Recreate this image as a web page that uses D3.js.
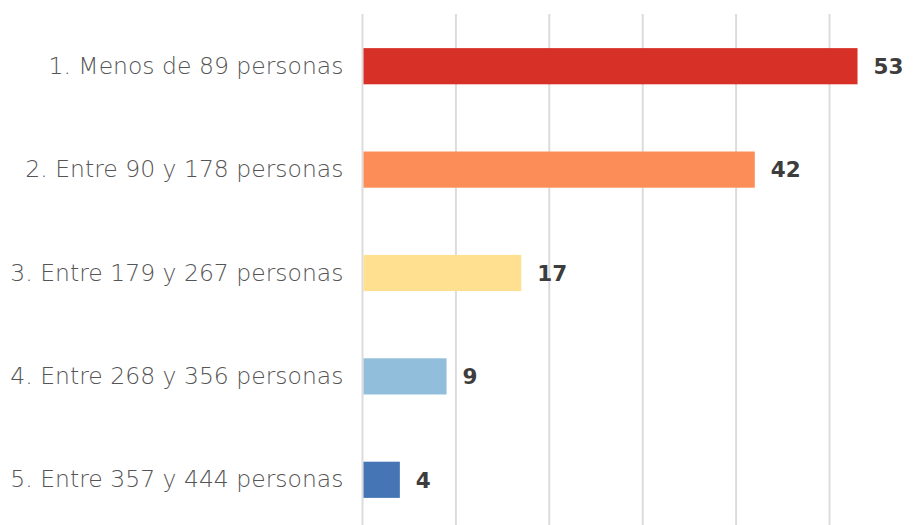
<!DOCTYPE html>
<meta charset="utf-8">
<style>
  body { margin: 0; background: #fff; }
</style>
<body>
<script src="https://d3js.org/d3.v7.min.js"></script>
<script>

    var categories = ["1. Menos de 89 personas", "2. Entre 90 y 178 personas", "3. Entre 179 y 267 personas",
                      "4. Entre 268 y 356 personas", "5. Entre 357 y 444 personas"];
    var values = [53, 42, 17, 9, 4];
    var colors = ["#d73027", "#fc8d59", "#fee090", "#91bfdb", "#4575b4"];
    var gridTicks = [0, 10, 20, 30, 40, 50];

    var width = 914,
        height = 525;

    var svg = d3.select("body").append("svg")
            .attr("width", width)
            .attr("height", height);

    var x = d3.scaleLinear()
            .domain([0, 50])
            .range([362.5, 829.5]);

    var y = d3.scaleBand()
            .domain(categories)
            .range([14, 532])
            .paddingInner(0.65)
            .paddingOuter(0.33);

    // vertical gridlines
    svg.selectAll(".grid")
        .data(gridTicks)
        .enter().append("line")
        .attr("x1", function(d) { return x(d); })
        .attr("x2", function(d) { return x(d); })
        .attr("y1", 14)
        .attr("y2", height)
        .attr("stroke", "#dcdcdc")
        .attr("stroke-width", 2);

    svg.selectAll(".bar")
        .data(values)
        .enter().append("rect")
        .attr("x", x(0) + 1)
        .attr("y", function(d, i) { return y(categories[i]); })
        .attr("width", function(d) { return x(d) - x(0) - 1; })
        .attr("height", y.bandwidth())
        .attr("fill", function(d, i) { return colors[i]; });

    var yAxis = svg.append("g")
        .attr("transform", "translate(" + (x(0) - 19) + ",0)")
        .call(d3.axisLeft(y).tickSize(0).tickPadding(0));
    yAxis.select(".domain").remove();
    yAxis.selectAll("text")
        .attr("font-family", "'DejaVu Sans', sans-serif")
        .attr("font-weight", 200)
        .attr("font-size", 23.5)
        .attr("fill", "#555");

    svg.selectAll(".val")
        .data(values)
        .enter().append("text")
        .attr("x", function(d) { return x(d) + 16; })
        .attr("y", function(d, i) { return y(categories[i]) + y.bandwidth() / 2; })
        .attr("dy", "0.36em")
        .attr("font-family", "'DejaVu Sans', sans-serif")
        .attr("font-weight", 700)
        .attr("font-size", 21.5)
        .attr("fill", "#3d3d3d")
        .text(function(d) { return d; });

</script>
